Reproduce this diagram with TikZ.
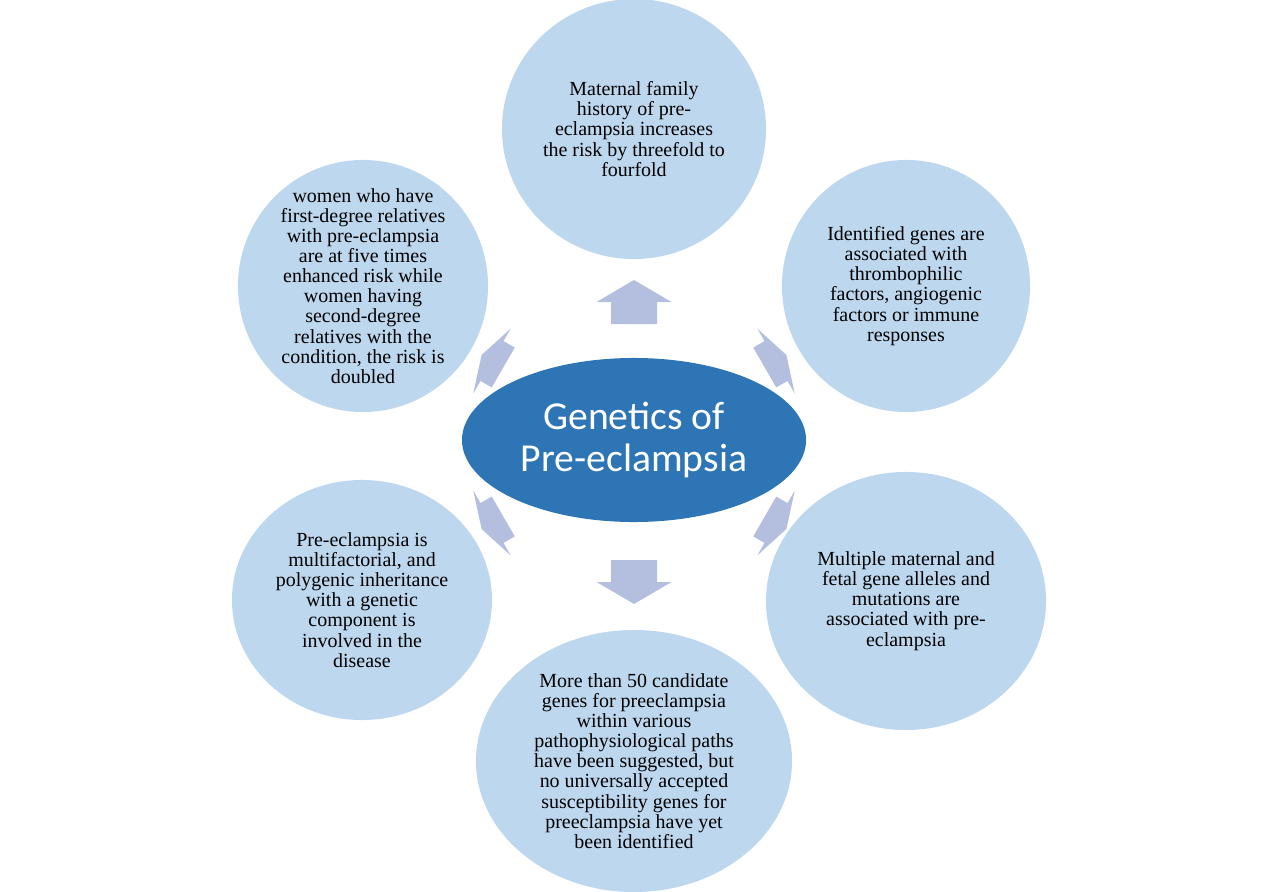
\documentclass[tikz,border=0pt]{standalone}
\usepackage{fontspec}
\setmainfont{Liberation Serif}
\newfontfamily\coresans{Carlito}
\usetikzlibrary{shapes.geometric}

\definecolor{petalblue}{HTML}{BDD7EE}
\definecolor{coreblue}{HTML}{2E75B6}
\definecolor{spokeblue}{HTML}{B4BFE0}

\begin{document}
\begin{tikzpicture}[
    x=0.025cm, y=-0.025cm,
    core/.style={ellipse, fill=coreblue, inner sep=0, minimum width=8.6cm, minimum height=4.1cm,
        text=white, align=center, font=\coresans\fontsize{28.2}{30}\selectfont},
    petal/.style={ellipse, fill=petalblue, inner sep=0},
    petal text/.style={align=center, inner sep=0, text=black, font=\fontsize{14.2}{14.3}\selectfont},
    spoke/.style={fill=spokeblue}
]
    \useasboundingbox (0,0) rectangle (1280,892);

    % Outer circles
    \node[petal, minimum width=6.6cm, minimum height=6.5cm,
        label={[petal text]center:{Maternal family\\ history of pre-\\ eclampsia increases\\ the risk by threefold to\\ fourfold}}] (pTop) at (634,129) {};
    \node[petal, minimum width=6.2cm, minimum height=6.3cm,
        label={[petal text]center:{Identified genes are\\ associated with\\ thrombophilic\\ factors, angiogenic\\ factors or immune\\ responses}}] (pUpRight) at (906,286) {};
    \node[petal, minimum width=7.0cm, minimum height=6.45cm,
        label={[petal text]center:{Multiple maternal and\\ fetal gene alleles and\\ mutations are\\ associated with pre-\\ eclampsia}}] (pLowRight) at (906,601) {};
    \node[petal, minimum width=7.9cm, minimum height=6.55cm,
        label={[petal text]center:{More than 50 candidate\\ genes for preeclampsia\\ within various\\ pathophysiological paths\\ have been suggested, but\\ no universally accepted\\ susceptibility genes for\\ preeclampsia have yet\\ been identified}}] (pBottom) at (634,761) {};
    \node[petal, minimum width=6.5cm, minimum height=6.0cm,
        label={[petal text]center:{Pre-eclampsia is\\ multifactorial, and\\ polygenic inheritance\\ with a genetic\\ component is\\ involved in the\\ disease}}] (pLowLeft) at (362,600) {};
    \node[petal, minimum width=6.25cm, minimum height=6.3cm,
        label={[petal text]center:{women who have\\ first-degree relatives\\ with pre-eclampsia\\ are at five times\\ enhanced risk while\\ women having\\ second-degree\\ relatives with the\\ condition, the risk is\\ doubled}}] (pUpLeft) at (363,286) {};

    % Block arrows, pointing out from the centre (head / shaft length)
    \foreach \ang/\ax/\ay/\hd/\sh in {0/634/302/22/22, -60/776/361/12/13, -120/776/523/12/13,
                                      180/634/582/22/22, 120/492/523/12/13, 60/492/361/12/13} {
        \fill[spoke, shift={(\ax,\ay)}, rotate=\ang]
            (0,-\hd) -- (37.5,0) -- (23,0) -- (23,\sh) -- (-23,\sh) -- (-23,0) -- (-37.5,0) -- cycle;
    }

    % Centre
    \node[core] (core) at (634,440) {Genetics of\\ Pre-eclampsia};

\end{tikzpicture}
\end{document}
